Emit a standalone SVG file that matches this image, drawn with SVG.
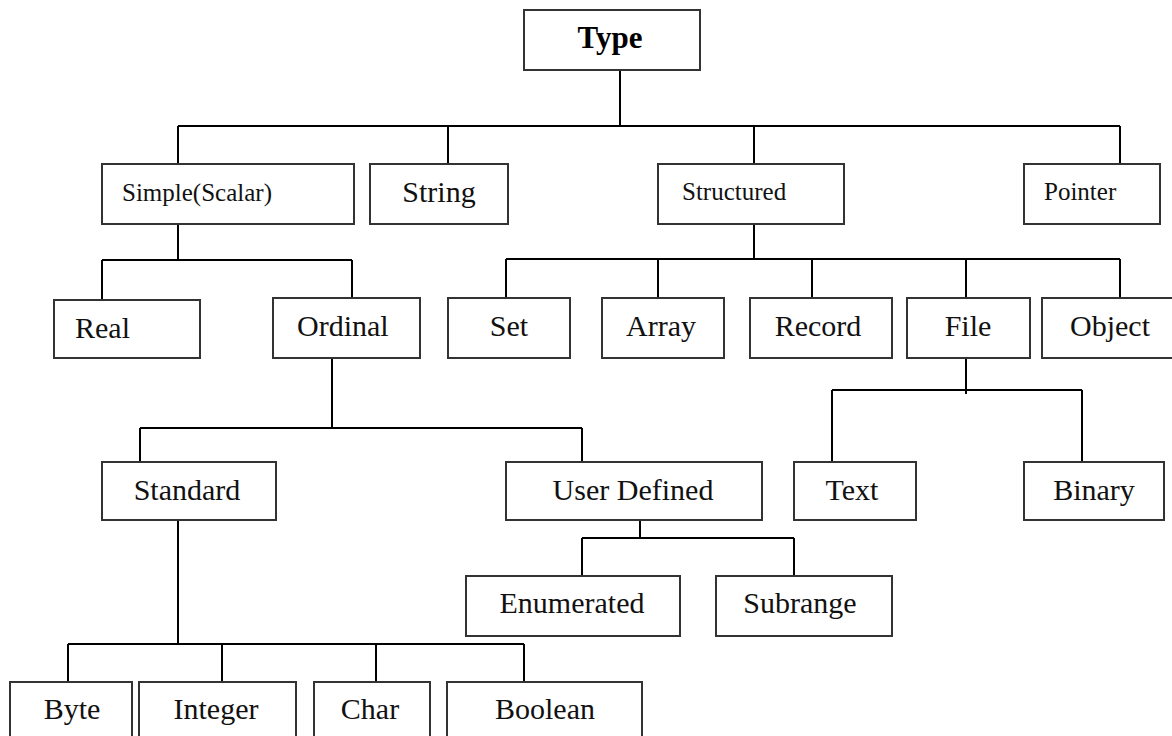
<svg xmlns="http://www.w3.org/2000/svg" width="1172" height="736" viewBox="0 0 1172 736">
<style>
.box{fill:#fff;stroke:#333;stroke-width:2}
.c{fill:none;stroke:#000;stroke-width:2}
.t{font-family:"Liberation Serif","Times New Roman",serif;font-size:30px;fill:#111}
.s{font-family:"Liberation Serif","Times New Roman",serif;font-size:25px;fill:#111}
.b{font-family:"Liberation Serif","Times New Roman",serif;font-size:31px;font-weight:bold;fill:#000}
.m{text-anchor:middle}
</style>
<rect width="1172" height="736" fill="#fff"/>
<g id="connectors">
<path class="c" d="M620 70V126M178 126H1120M178 126V164M448 126V164M754 126V164M1120 126V164"/>
<path class="c" d="M178 221V260M102 260H352M102 260V300M352 260V298"/>
<path class="c" d="M754 221V259M506 259H1120M506 259V298M658 259V298M812 259V298M966 259V298M1120 259V298"/>
<path class="c" d="M332 349V428M140 428H582M140 428V462M582 428V466"/>
<path class="c" d="M966 356V394M832 390H1082M832 390V462M1082 390V462"/>
<path class="c" d="M178 517V644M68 644H524M68 644V682M222 644V682M376 644V682M524 644V682"/>
<path class="c" d="M640 517V538M582 538H794M582 538V576M794 538V576"/>
</g>
<g id="type"><rect class="box" x="524" y="10" width="176" height="60"/><text class="b m" x="610" y="48">Type</text></g>
<g id="simple"><rect class="box" x="102" y="164" width="252" height="60"/><text class="s" x="122" y="201">Simple(Scalar)</text></g>
<g id="string"><rect class="box" x="370" y="164" width="138" height="60"/><text class="t m" x="439" y="202">String</text></g>
<g id="structured"><rect class="box" x="658" y="164" width="186" height="60"/><text class="s" x="682" y="200">Structured</text></g>
<g id="pointer"><rect class="box" x="1024" y="164" width="136" height="60"/><text class="s" x="1044" y="200">Pointer</text></g>
<g id="real"><rect class="box" x="54" y="300" width="146" height="58"/><text class="t" x="75" y="338">Real</text></g>
<g id="ordinal"><rect class="box" x="273" y="298" width="147" height="60"/><text class="t" x="297" y="336">Ordinal</text></g>
<g id="set"><rect class="box" x="448" y="298" width="122" height="60"/><text class="t m" x="509" y="336">Set</text></g>
<g id="array"><rect class="box" x="602" y="298" width="122" height="60"/><text class="t m" x="661" y="336">Array</text></g>
<g id="record"><rect class="box" x="750" y="298" width="142" height="60"/><text class="t m" x="818" y="336">Record</text></g>
<g id="file"><rect class="box" x="907" y="298" width="123" height="60"/><text class="t m" x="968" y="336">File</text></g>
<g id="object"><rect class="box" x="1042" y="298" width="132" height="60"/><text class="t m" x="1110" y="336">Object</text></g>
<g id="standard"><rect class="box" x="102" y="462" width="174" height="58"/><text class="t m" x="187" y="500">Standard</text></g>
<g id="userdefined"><rect class="box" x="506" y="462" width="256" height="58"/><text class="t m" x="633" y="500">User Defined</text></g>
<g id="text"><rect class="box" x="794" y="462" width="122" height="58"/><text class="t m" x="852" y="500">Text</text></g>
<g id="binary"><rect class="box" x="1024" y="462" width="140" height="58"/><text class="t m" x="1094" y="500">Binary</text></g>
<g id="enumerated"><rect class="box" x="466" y="576" width="214" height="60"/><text class="t m" x="572" y="613">Enumerated</text></g>
<g id="subrange"><rect class="box" x="716" y="576" width="176" height="60"/><text class="t m" x="800" y="613">Subrange</text></g>
<g id="byte"><rect class="box" x="10" y="682" width="122" height="70"/><text class="t m" x="72" y="719">Byte</text></g>
<g id="integer"><rect class="box" x="139" y="682" width="157" height="70"/><text class="t m" x="216" y="719">Integer</text></g>
<g id="char"><rect class="box" x="314" y="682" width="116" height="70"/><text class="t m" x="370" y="719">Char</text></g>
<g id="boolean"><rect class="box" x="447" y="682" width="195" height="70"/><text class="t m" x="545" y="719">Boolean</text></g>
</svg>
